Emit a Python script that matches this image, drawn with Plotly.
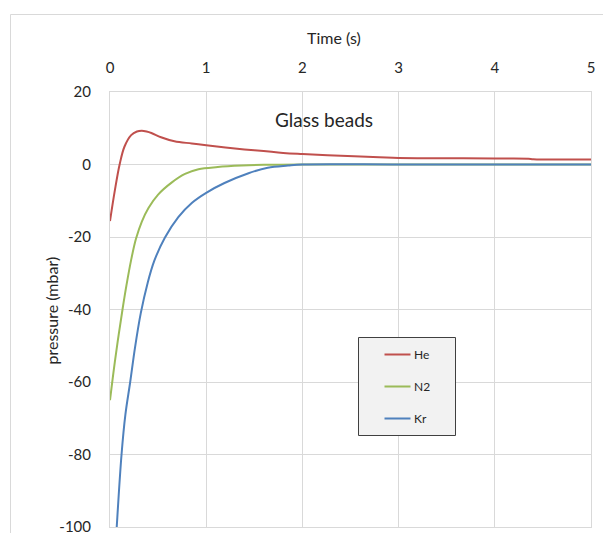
import plotly.graph_objects as go

# Pressure transients through a glass-bead packing, one series per gas
time_he = [0, 0.05, 0.10, 0.15, 0.22, 0.28, 0.33, 0.38, 0.43, 0.53, 0.67, 0.85,
           1.0, 1.2, 1.5, 1.8, 2.0, 2.4, 2.8, 3.0, 3.5, 4.0, 4.35, 4.4, 5.0]
pressure_he = [-15.6, -7.2, 0.0, 4.9, 8.1, 9.1, 9.3, 9.1, 8.7, 7.5, 6.4, 5.8,
               5.3, 4.7, 3.9, 3.2, 2.9, 2.4, 2.0, 1.8, 1.75, 1.65, 1.6, 1.45, 1.4]

time_n2 = [0, 0.05, 0.09, 0.13, 0.17, 0.22, 0.27, 0.33, 0.40, 0.50, 0.64, 0.78,
           0.92, 1.12, 1.37, 1.6, 2.0, 3.0, 4.0, 5.0]
pressure_n2 = [-65.0, -54.5, -47.0, -40.0, -33.5, -26.3, -20.5, -15.8, -12.0, -8.3,
               -5.0, -2.6, -1.3, -0.7, -0.3, -0.1, 0, 0, 0, 0]

time_kr = [0, 0.04, 0.07, 0.12, 0.16, 0.21, 0.26, 0.32, 0.39, 0.46, 0.57, 0.71,
           0.85, 1.0, 1.19, 1.44, 1.64, 1.85, 2.0, 3.0, 4.0, 5.0]
pressure_kr = [-135, -114, -100, -80, -69, -60, -50.5, -41, -32.8, -26.6, -20.2, -14.5,
               -10.6, -7.8, -5.1, -2.4, -0.9, -0.3, 0, 0, 0, 0]

series_names = ["He", "N2", "Kr"]
series_colors = ["#c0504d", "#9bbb59", "#4f81bd"]
x_ticks = [0, 1, 2, 3, 4, 5]
y_ticks = [-100, -80, -60, -40, -20, 0, 20]

FONT = "Lato, 'Open Sans', sans-serif"
TEXT = "#262626"
GRID = "#d9d9d9"

fig = go.Figure()
for name, t, p, c in zip(series_names,
                         [time_he, time_n2, time_kr],
                         [pressure_he, pressure_n2, pressure_kr],
                         series_colors):
    fig.add_trace(go.Scatter(x=t, y=p, name=name, mode="lines",
                             line=dict(color=c, width=2, shape="spline", smoothing=1.0),
                             showlegend=False))

# geometry of the plotting box in pixels (used to place decorations)
W, H = 603, 533
L, R, T, B = 110, 12, 92, 6
pw, ph = W - L - R, H - T - B


def px(x):
    return (x - L) / pw


def py(y):
    return (H - B - y) / ph


shapes = []
# chart-area frame (top and left edges)
shapes.append(dict(type="line", xref="paper", yref="paper",
                   x0=px(10.5), x1=px(610), y0=py(14.5), y1=py(14.5),
                   line=dict(color=GRID, width=1)))
shapes.append(dict(type="line", xref="paper", yref="paper",
                   x0=px(10.5), x1=px(10.5), y0=py(14.5), y1=py(540),
                   line=dict(color=GRID, width=1)))

# legend box
lx0, lx1, ly0, ly1 = 358.5, 455.5, 337.5, 435.5
shapes.append(dict(type="rect", xref="paper", yref="paper",
                   x0=px(lx0), x1=px(lx1), y0=py(ly1), y1=py(ly0),
                   fillcolor="#f2f2f2", line=dict(color="#404040", width=1)))
annotations = []
legend_rows = [354.5, 386.5, 418.5]
for name, c, yy in zip(series_names, series_colors, legend_rows):
    shapes.append(dict(type="line", xref="paper", yref="paper",
                       x0=px(384.5), x1=px(410.5), y0=py(yy), y1=py(yy),
                       line=dict(color=c, width=2)))
    annotations.append(dict(text=name, xref="paper", yref="paper",
                            x=px(411.5), y=py(yy), xanchor="left", yanchor="middle",
                            showarrow=False, font=dict(family=FONT, size=12, color=TEXT)))

annotations.append(dict(text="Glass beads", xref="paper", yref="paper",
                        x=px(323.5), y=py(119), xanchor="center", yanchor="middle",
                        showarrow=False, font=dict(family=FONT, size=19, color=TEXT)))
annotations.append(dict(text="Time (s)", xref="paper", yref="paper",
                        x=px(334), y=py(37), xanchor="center", yanchor="middle",
                        showarrow=False, font=dict(family=FONT, size=16, color=TEXT)))
annotations.append(dict(text="pressure (mbar)", xref="paper", yref="paper",
                        x=px(50.5), y=py(311), xanchor="center", yanchor="middle",
                        textangle=-90, showarrow=False,
                        font=dict(family=FONT, size=16, color=TEXT)))

fig.update_layout(
    width=W, height=H,
    margin=dict(l=L, r=R, t=T, b=B, pad=0, autoexpand=False),
    paper_bgcolor="white", plot_bgcolor="white",
    font=dict(family=FONT, size=15, color=TEXT),
    shapes=shapes, annotations=annotations,
    xaxis=dict(range=[0, 5], side="top", tickvals=x_ticks, ticktext=[str(v) for v in x_ticks],
               showgrid=True, gridcolor=GRID, gridwidth=1,
               showline=True, linecolor=GRID, linewidth=1, mirror=True,
               zeroline=False, ticks="", ticklabelstandoff=12,
               ticklabeloverflow="allow", automargin=False,
               tickfont=dict(family=FONT, size=15, color=TEXT)),
    yaxis=dict(range=[-100, 20], tickvals=y_ticks, ticktext=[str(v) for v in y_ticks],
               showgrid=True, gridcolor=GRID, gridwidth=1,
               showline=True, linecolor=GRID, linewidth=1, mirror=True,
               zeroline=False, ticks="", ticklabelstandoff=15,
               ticklabeloverflow="allow", automargin=False,
               tickfont=dict(family=FONT, size=15, color=TEXT)),
)

fig.write_html("out.html")
